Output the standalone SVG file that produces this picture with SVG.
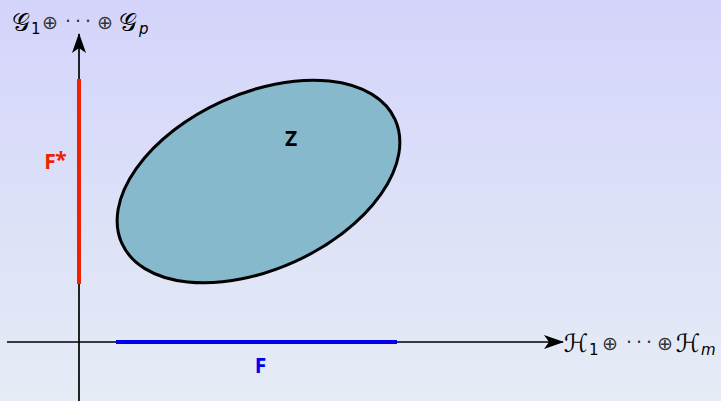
<svg xmlns="http://www.w3.org/2000/svg" width="721" height="401" viewBox="0 0 721 401">
<defs>
<linearGradient id="bg" x1="0" y1="0" x2="0" y2="1">
<stop offset="0" stop-color="#d4d4fb"/>
<stop offset="1" stop-color="#e5ecf5"/>
</linearGradient>
<marker id="arr" viewBox="0 0 20 14" refX="19" refY="7" markerWidth="20" markerHeight="14" markerUnits="userSpaceOnUse" orient="auto">
<path d="M0,0 L20,7 L0,14 L5,7 Z" fill="#000"/>
</marker>
</defs>
<style>
.ax{stroke:#000;stroke-width:1.7;fill:none}
.m{font-family:"DejaVu Sans",sans-serif;fill:#000;text-anchor:middle}
.sc{font-size:25px}
.op{font-size:19px;fill:#333}
.sub{font-size:15px;text-anchor:start}
.b{font-family:"Open Sans","DejaVu Sans",sans-serif;font-weight:bold;font-size:21px;text-anchor:middle}
</style>
<rect width="721" height="401" fill="url(#bg)"/>
<g id="connectors">
<line class="ax" x1="7" y1="342" x2="563" y2="342" marker-end="url(#arr)"/>
<line class="ax" x1="79" y1="401" x2="79" y2="34" marker-end="url(#arr)"/>
</g>
<g id="Fstar">
<line x1="79" y1="79" x2="79" y2="284" stroke="#ee2200" stroke-width="4"/>
<text class="b" x="50" y="169" fill="#ee2200">F</text>
<text class="b" x="61" y="167" fill="#ee2200" font-size="13">*</text>
</g>
<g id="F">
<line x1="116" y1="342" x2="397" y2="342" stroke="#0000ee" stroke-width="4"/>
<text class="b" x="260.5" y="373" fill="#0000ee">F</text>
</g>
<g id="Z">
<ellipse cx="258.5" cy="181.5" rx="150" ry="88" transform="rotate(-24.4 258.5 181.5)" fill="#86b9cc" stroke="#000" stroke-width="3"/>
<text class="b" x="291" y="146" fill="#000">Z</text>
</g>
<g id="ylabel">
<text class="m sc" x="21" y="31">𝒢</text>
<text class="m sub" x="31" y="34">1</text>
<text class="m op" x="50" y="29">⊕</text>
<text class="m op" x="68" y="28">·</text>
<text class="m op" x="78" y="28">·</text>
<text class="m op" x="88" y="28">·</text>
<text class="m op" x="105" y="29">⊕</text>
<text class="m sc" x="128" y="31">𝒢</text>
<text class="m sub" x="139" y="34" font-style="italic">p</text>
</g>
<g id="xlabel">
<text class="m sc" x="576" y="352">ℋ</text>
<text class="m sub" x="589" y="355">1</text>
<text class="m op" x="610" y="350">⊕</text>
<text class="m op" x="629" y="349">·</text>
<text class="m op" x="639" y="349">·</text>
<text class="m op" x="649" y="349">·</text>
<text class="m op" x="665" y="350">⊕</text>
<text class="m sc" x="688" y="352">ℋ</text>
<text class="m sub" x="701" y="355" font-style="italic">m</text>
</g>
</svg>
